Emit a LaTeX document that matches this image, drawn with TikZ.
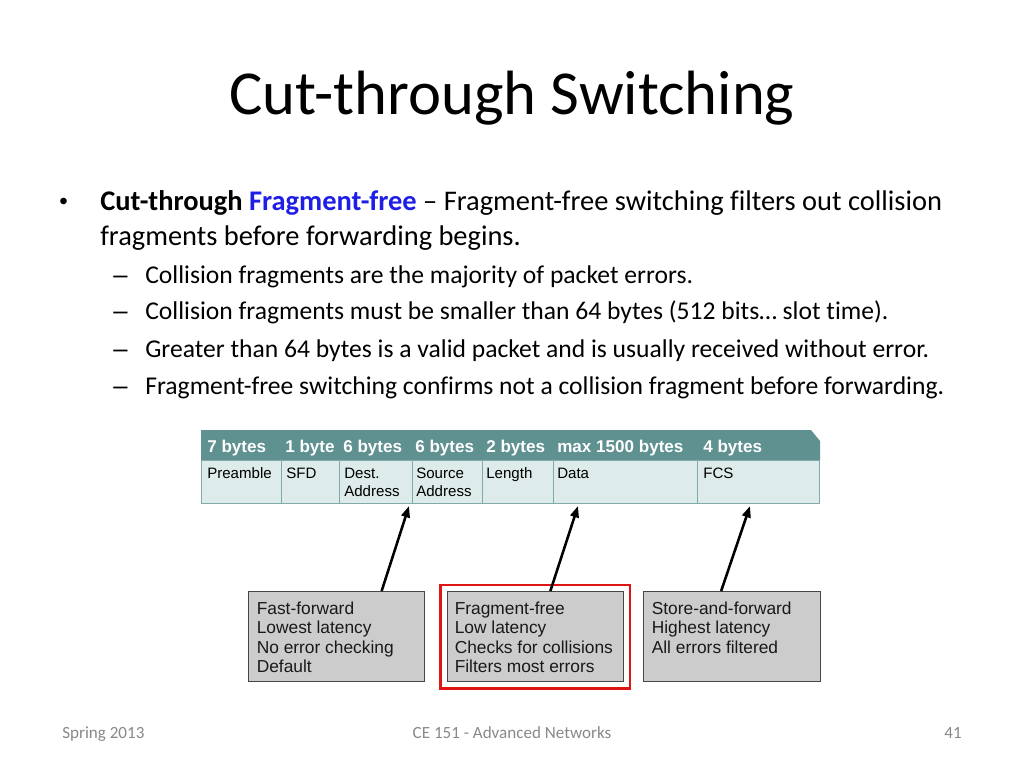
\documentclass[tikz,border=0pt]{standalone}
\usepackage{fontspec}
\setmainfont{Carlito}[Ligatures=CommonOff]
\newfontfamily\arialfont{Liberation Sans}
\usetikzlibrary{arrows.meta,calc,fit}

\definecolor{hdrteal}{RGB}{95,145,145}
\definecolor{cellfill}{RGB}{222,235,235}
\definecolor{cellline}{RGB}{130,170,170}
\definecolor{boxgrey}{RGB}{204,204,204}
\definecolor{boxline}{RGB}{70,70,70}
\definecolor{framered}{RGB}{225,20,20}
\definecolor{fblue}{RGB}{30,30,230}
\definecolor{footgrey}{RGB}{137,137,137}

\begin{document}
\begin{tikzpicture}[x=0.703125pt, y=-0.703125pt,
  body/.style={anchor=base west, inner sep=0pt, font=\fontsize{20}{24}\selectfont},
  sub/.style={anchor=base west, inner sep=0pt, font=\fontsize{18}{22}\selectfont},
  foot/.style={inner sep=0pt, text=footgrey, font=\fontsize{12}{14}\selectfont},
  hdr/.style={anchor=base west, inner sep=0pt, text=white, font=\arialfont\bfseries\fontsize{12}{14}\selectfont},
  fld/.style={shape=rectangle, draw=cellline, fill=cellfill, line width=0.9pt, anchor=north west, minimum height=30.23pt, inner sep=0pt},
  fldtxt/.style={anchor=north west, inner sep=0pt, align=left, font=\arialfont\fontsize{10.6}{13.1}\selectfont},
  box/.style={shape=rectangle, draw=boxline, fill=boxgrey, line width=0.9pt, anchor=north west, minimum width=123.75pt, minimum height=63.28pt},
  boxtxt/.style={anchor=north west, inner sep=0pt, align=left, text=black!90, font=\arialfont\fontsize{12.2}{13.6}\selectfont},
  arr/.style={-{Triangle[length=8pt,width=6pt]}, line width=1.8pt}]
\fill[white] (0,0) rectangle (1024,768);
\useasboundingbox (0,0) rectangle (1024,768);

% slide text
\node [anchor=base, inner sep=0pt, font=\fontsize{44}{52}\selectfont] (title) at (512,115) {Cut-through Switching};
\node [body, font=\arialfont\fontsize{17}{20}\selectfont] (dot) at (59,210) {•};
\node [body] (p1) at (100,211) {\textbf{Cut-through} \textcolor{fblue}{\textbf{Fragment-free}} – Fragment-free switching filters out collision};
\node [body] (p2) at (100,246) {fragments before forwarding begins.};
\node [sub, font=\arialfont\fontsize{18}{22}\selectfont] (d1) at (113,283) {–};
\node [sub] (s1) at (145,283) {Collision fragments are the majority of packet errors.};
\node [sub, font=\arialfont\fontsize{18}{22}\selectfont] (d2) at (113,320) {–};
\node [sub] (s2) at (145,320) {Collision fragments must be smaller than 64 bytes (512 bits… slot time).};
\node [sub, font=\arialfont\fontsize{18}{22}\selectfont] (d3) at (113,357) {–};
\node [sub] (s3) at (145,357) {Greater than 64 bytes is a valid packet and is usually received without error.};
\node [sub, font=\arialfont\fontsize{18}{22}\selectfont] (d4) at (113,394) {–};
\node [sub] (s4) at (145,394) {Fragment-free switching confirms not a collision fragment before forwarding.};

% frame header
\fill[hdrteal] (201,430) -- (811,430) -- (820,441) -- (820,460) -- (201,460) -- cycle;
\node [hdr] (H1) at (207,452) {7 bytes};
\node [hdr] (H2) at (285,452) {1 byte};
\node [hdr] (H3) at (343,452) {6 bytes};
\node [hdr] (H4) at (415,452) {6 bytes};
\node [hdr] (H5) at (486,452) {2 bytes};
\node [hdr] (H6) at (557,452) {max 1500 bytes};
\node [hdr] (H7) at (703,452) {4 bytes};

% frame fields
\node [fld, minimum width=56.25pt] (F1) at (201,460) {};
\node [fld, minimum width=40.78pt] (F2) at (281,460) {};
\node [fld, minimum width=51.33pt] (F3) at (339,460) {};
\node [fld, minimum width=49.22pt] (F4) at (412,460) {};
\node [fld, minimum width=49.92pt] (F5) at (482,460) {};
\node [fld, minimum width=101.25pt] (F6) at (553,460) {};
\node [fld, minimum width=85.78pt] (F7) at (697,460) {};
\node [fldtxt] (L1) at (207,467.5) {Preamble};
\node [fldtxt] (L2) at (286,467.5) {SFD};
\node [fldtxt] (L3) at (344,467.5) {Dest.\\Address};
\node [fldtxt] (L4) at (416,467.5) {Source\\Address};
\node [fldtxt] (L5) at (486,467.5) {Length};
\node [fldtxt] (L6) at (557,467.5) {Data};
\node [fldtxt] (L7) at (703,467.5) {FCS};

% switching modes
\node [box] (B1) at (248,591) {};
\node [box] (B2) at (446.7,591) {};
\node [box, minimum width=124.45pt] (B3) at (643,591) {};
\node [boxtxt] (M1) at (256.5,601.5) {Fast-forward\\Lowest latency\\No error checking\\Default};
\node [boxtxt] (M2) at (454.5,601.5) {Fragment-free\\Low latency\\Checks for collisions\\Filters most errors};
\node [boxtxt] (M3) at (651.5,601.5) {Store-and-forward\\Highest latency\\All errors filtered};
\node [draw=framered, line width=1.5pt, inner sep=4.4pt, fit=(B2)] (R) {};

\coordinate (T1) at (409,506);
\coordinate (T2) at (578,506);
\coordinate (T3) at (750,506);
\draw[arr] ($(B1.north)+(45,0)$) -- (T1);
\draw[arr] ($(B2.north)+(15,0)$) -- (T2);
\draw[arr] ($(B3.north)+(-11,0)$) -- (T3);

% footer
\node [foot, anchor=base west] (f1) at (62,738) {Spring 2013};
\node [foot, anchor=base] (f2) at (512,738) {CE 151 - Advanced Networks};
\node [foot, anchor=base east] (f3) at (962,738) {41};
\end{tikzpicture}
\end{document}
